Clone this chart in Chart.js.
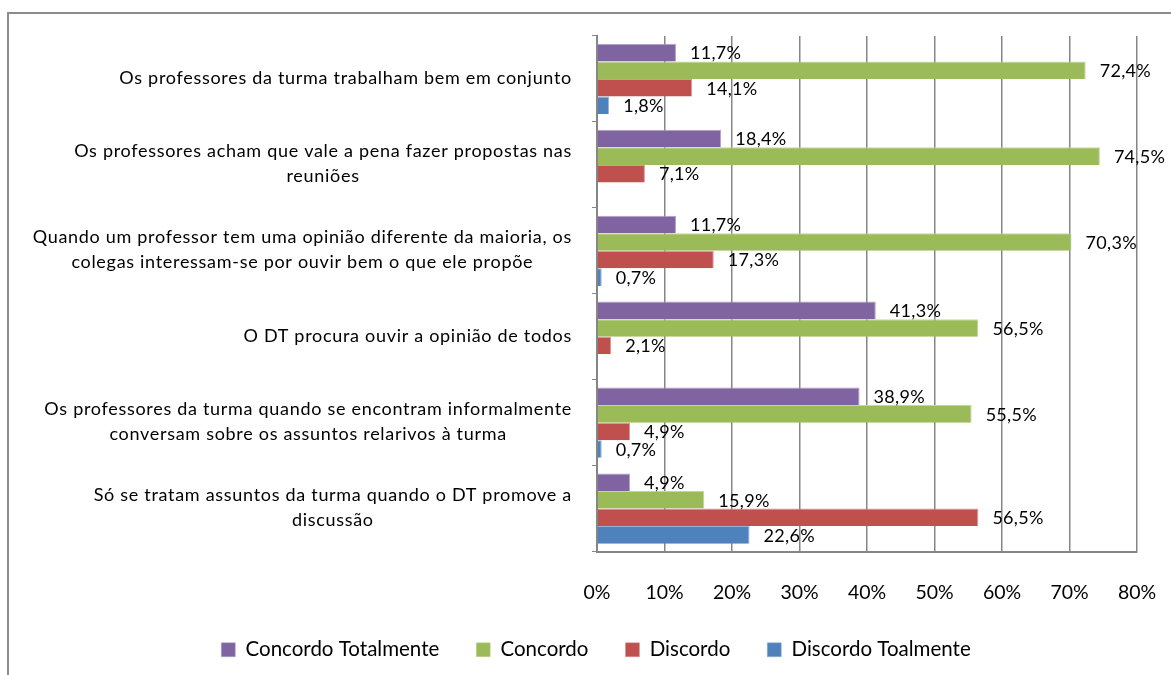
<!DOCTYPE html>
<html>
<head>
<meta charset="utf-8">
<script src="https://cdn.jsdelivr.net/npm/chart.js@4"></script>
<style>
  body { margin: 0; background: #fff; }
  #wrap { position: relative; width: 1171px; height: 675px; overflow: hidden; }
  #frame { position: absolute; left: 7px; top: 12px; width: 1300px; height: 800px;
           border-left: 2px solid #8c8c8c; border-top: 2px solid #8c8c8c; }
  canvas { position: absolute; left: 0; top: 0; }
</style>
</head>
<body>
<div id="wrap">
  <div id="frame"></div>
  <canvas id="barChart" width="1171" height="675"></canvas>
</div>
<script>
// grafik opiniao dos professores

var categorias = [
  ["Os professores da turma trabalham bem em conjunto"],
  ["Os professores acham que vale a pena fazer propostas nas", "reuniões"],
  ["Quando um professor tem uma opinião diferente da maioria, os", "colegas interessam-se por ouvir bem o que ele propõe"],
  ["O DT procura ouvir a opinião de todos"],
  ["Os professores da turma quando se encontram informalmente", "conversam sobre os assuntos relarivos à turma"],
  ["Só se tratam assuntos da turma quando o DT promove a", "discussão"]
];
var concordoTotalmente = [11.7, 18.4, 11.7, 41.3, 38.9, 4.9];
var concordo = [72.4, 74.5, 70.3, 56.5, 55.5, 15.9];
var discordo = [14.1, 7.1, 17.3, 2.1, 4.9, 56.5];
var discordoTotalmente = [1.8, null, 0.7, null, 0.7, 22.6];
var xTicks = [0, 10, 20, 30, 40, 50, 60, 70, 80];

var fonte = "Lato, 'Open Sans', sans-serif";

// label nilai di ujung bar
var labelNilai = {
  id: 'labelNilai',
  afterDatasetsDraw: function(chart) {
    var ctx = chart.ctx;
    ctx.save();
    ctx.font = "18px " + fonte;
    ctx.letterSpacing = "0.3px";
    ctx.fillStyle = "#000";
    ctx.textAlign = "left";
    ctx.textBaseline = "middle";
    chart.data.datasets.forEach(function(ds, i) {
      var meta = chart.getDatasetMeta(i);
      meta.data.forEach(function(el, j) {
        var v = ds.data[j];
        if (v === null) return;
        ctx.fillText(v.toFixed(1).replace('.', ',') + '%', el.x + 14, el.y + 1);
      });
    });
    ctx.restore();
  }
};

// label kategori: rata kanan, baris di tengah
var labelKategori = {
  id: 'labelKategori',
  afterDraw: function(chart) {
    var ctx = chart.ctx;
    var sy = chart.scales.y;
    ctx.save();
    ctx.font = "18px " + fonte;
    ctx.letterSpacing = "0.7px";
    ctx.fillStyle = "#000";
    ctx.textAlign = "center";
    ctx.textBaseline = "middle";
    var lh = 25;
    categorias.forEach(function(lines, i) {
      var cy = sy.getPixelForValue(i);
      var w = 0;
      lines.forEach(function(t) { w = Math.max(w, ctx.measureText(t).width); });
      var cx = sy.right - 25 - w / 2;
      var y0 = cy - (lines.length - 1) * lh / 2 - 1;
      lines.forEach(function(t, k) { ctx.fillText(t, cx, y0 + k * lh); });
    });
    ctx.restore();
  }
};

var ctxB = document.getElementById("barChart").getContext('2d');
var myBarChart = new Chart(ctxB, {
  type: 'bar',
  data: {
    labels: categorias,
    datasets: [
      { label: "Concordo Totalmente", data: concordoTotalmente, backgroundColor: '#8064A2', borderColor: '#b3a2c7', borderWidth: {top: 1, right: 1, bottom: 0, left: 0} },
      { label: "Concordo", data: concordo, backgroundColor: '#9BBB59', borderColor: '#c3d69b', borderWidth: {top: 1, right: 1, bottom: 0, left: 0} },
      { label: "Discordo", data: discordo, backgroundColor: '#C0504D', borderColor: '#d99694', borderWidth: {top: 1, right: 1, bottom: 0, left: 0} },
      { label: "Discordo Toalmente", data: discordoTotalmente, backgroundColor: '#4F81BD', borderColor: '#95b3d7', borderWidth: {top: 1, right: 1, bottom: 0, left: 0} }
    ]
  },
  options: {
    indexAxis: 'y',
    responsive: false,
    animation: false,
    devicePixelRatio: 1,
    categoryPercentage: 0.817,
    barPercentage: 1,
    layout: { padding: { top: 36, left: 55, right: 34, bottom: 5 } },
    scales: {
      x: {
        min: 0, max: 80,
        afterBuildTicks: function(s) { s.ticks = xTicks.map(function(v) { return { value: v }; }); },
        afterFit: function(s) { s.height = 51; },
        grid: { color: '#868686', lineWidth: 1.5, tickLength: 27, tickColor: 'transparent' },
        border: { color: '#868686', width: 2 },
        ticks: {
          color: '#000', padding: 3,
          font: { family: fonte, size: 19.5 },
          callback: function(v) { return v + '%'; }
        }
      },
      y: {
        afterFit: function(s) { s.width = 542; },
        grid: { drawOnChartArea: false, color: '#868686', tickLength: 5, offset: true },
        border: { color: '#868686', width: 2 },
        ticks: { display: false }
      }
    },
    plugins: {
      legend: {
        position: 'bottom',
        labels: {
          color: '#000',
          font: { family: fonte, size: 20.5 },
          boxWidth: 14, boxHeight: 14, padding: 37,
          useBorderRadius: false
        }
      },
      tooltip: { enabled: false }
    }
  },
  plugins: [labelNilai, labelKategori]
});
</script>
</body>
</html>
